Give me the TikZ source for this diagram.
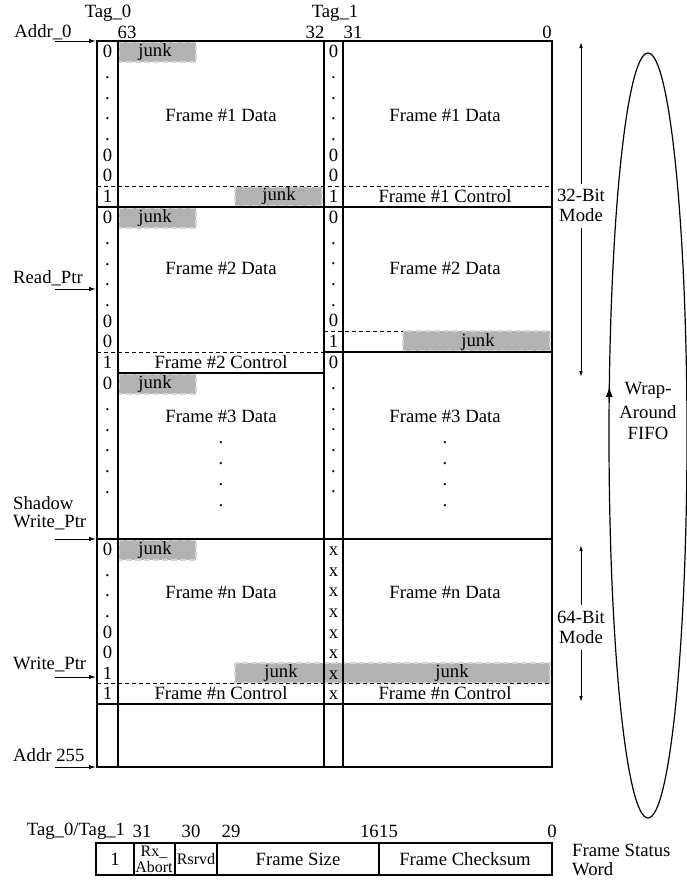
\documentclass[tikz,border=0pt]{standalone}
\usepackage{fontspec}
\setmainfont{Liberation Serif}
\usetikzlibrary{arrows.meta}
\definecolor{junkgray}{RGB}{178,178,178}
\begin{document}
\begin{tikzpicture}[x=1pt,y=-1pt,
  lbl/.style={font=\fontsize{18.7}{20}\selectfont, inner sep=0pt},
  small/.style={font=\fontsize{16}{16}\selectfont, inner sep=0pt},
  tagc/.style={lbl, text height=12.6pt, text depth=0pt},
  thickln/.style={line width=2.8pt, line cap=rect},
  midln/.style={line width=2pt},
  dashln/.style={line width=0.9pt, dash pattern=on 4pt off 3pt},
  junkbox/.style={fill=junkgray, draw=junkgray!55, line width=1.2pt, dash pattern=on 6pt off 3pt},
  ptr/.style={line width=1pt, -{Latex[length=7pt,width=4.5pt]}},
  modearr/.style={line width=0.9pt, -{Latex[length=6pt,width=3.5pt]}},
]
\useasboundingbox (0,0) rectangle (686,894);

% ---------- junk areas ----------
\draw[junkbox] (119,42) rectangle (196,62);
\draw[junkbox] (235,187) rectangle (322,206);
\draw[junkbox] (119,208) rectangle (196,228);
\draw[junkbox] (403,331) rectangle (550,351);
\draw[junkbox] (119,374) rectangle (196,394);
\draw[junkbox] (119,540) rectangle (196,560);
\draw[junkbox] (235,663) rectangle (550,683);

% ---------- grid lines ----------
\draw[dashln] (97,186) -- (552,186);
\draw[dashln] (97,352) -- (324,352);
\draw[dashln] (324,331) -- (403,331);
\draw[dashln] (97,683) -- (552,683);
\draw[midln] (118,373) -- (324,373);
\draw[midln] (324,352) -- (552,352);
\draw[thickln] (97,207) -- (552,207);
\draw[thickln] (97,539) -- (552,539);
\draw[thickln] (97,704) -- (552,704);
\draw[thickln] (97,41) rectangle (552,767);
\foreach \x in {118,324,343} \draw[thickln] (\x,41) -- (\x,767);

% ---------- tag columns ----------
% Frame 1
\foreach \t [count=\i from 0] in {0,.,.,.,.,0,0} {
  \node[tagc] (LA\i) at (107.5,{51.35+20.7*\i}) {\t};
  \node[tagc] (RA\i) at (333.5,{51.35+20.7*\i}) {\t};
}
\node[tagc] (LAc) at (107.5,196.5) {1};
\node[tagc] (RAc) at (333.5,196.5) {1};
% Frame 2
\foreach \t [count=\i from 0] in {0,.,.,.,.,0,0}
  \node[tagc] (LB\i) at (107.5,{217.35+20.7*\i}) {\t};
\node[tagc] (LBc) at (107.5,362.5) {1};
\foreach \t [count=\i from 0] in {0,.,.,.,.,0}
  \node[tagc] (RB\i) at (333.5,{217.33+20.67*\i}) {\t};
\node[tagc] (RBc) at (333.5,341.5) {1};
% Frame 3
\foreach \t [count=\i from 0] in {0,.,.,.,.,.}
  \node[tagc] (LC\i) at (107.5,{383.35+20.7*\i}) {\t};
\foreach \t [count=\i from 0] in {0,.,.,.,.,.,.}
  \node[tagc] (RC\i) at (333.5,{362.35+20.7*\i}) {\t};
% Frame n
\foreach \t [count=\i from 0] in {0,.,.,.,0,0,1}
  \node[tagc] (LN\i) at (107.5,{549.3+20.6*\i}) {\t};
\node[tagc] (LNc) at (107.5,693.5) {1};
\foreach \i in {0,...,6}
  \node[tagc] (RN\i) at (333.5,{549.3+20.6*\i}) {x};
\node[tagc] (RNc) at (333.5,693.5) {x};

% ---------- junk labels ----------
\node[lbl] (j1) at (155,52) {junk};
\node[lbl] (j2) at (279,196.5) {junk};
\node[lbl] (j3) at (155,218) {junk};
\node[lbl] (j4) at (478,341.5) {junk};
\node[lbl] (j5) at (155,384) {junk};
\node[lbl] (j6) at (155,550) {junk};
\node[lbl] (j7) at (281,673) {junk};
\node[lbl] (j8) at (452,673) {junk};

% ---------- frame texts ----------
\node[lbl] (f1l) at (221,115) {Frame \#1 Data};
\node[lbl] (f1r) at (445,115) {Frame \#1 Data};
\node[lbl] (f1c) at (445,196.5) {Frame \#1 Control};
\node[lbl] (f2l) at (221,268) {Frame \#2 Data};
\node[lbl] (f2r) at (445,268) {Frame \#2 Data};
\node[lbl] (f2c) at (221,362.5) {Frame \#2 Control};
\node[lbl] (f3l) at (221,416) {Frame \#3 Data};
\node[lbl] (f3r) at (445,416) {Frame \#3 Data};
\foreach \y [count=\i] in {437,458,479,500} {
  \node[tagc] (d3l\i) at (221,\y) {.};
  \node[tagc] (d3r\i) at (445,\y) {.};
}
\node[lbl] (fnl) at (221,592) {Frame \#n Data};
\node[lbl] (fnr) at (445,592) {Frame \#n Data};
\node[lbl] (fncl) at (221,693.5) {Frame \#n Control};
\node[lbl] (fncr) at (445,693.5) {Frame \#n Control};

% ---------- top labels ----------
\node[lbl] (tag0) at (108,13) {Tag\_0};
\node[lbl] (b63) at (127,32) {63};
\node[lbl] (b32) at (315,32) {32};
\node[lbl] (tag1) at (335,13) {Tag\_1};
\node[lbl] (b31) at (353,32) {31};
\node[lbl] (b0) at (547,32) {0};

% ---------- left pointers ----------
\node[lbl] (addr0) at (43,32) {Addr\_0};
\coordinate (a0s) at (55,41); \coordinate (a0e) at (96,41);
\draw[ptr] (a0s) -- (a0e);
\node[lbl] (rptr) at (48,278) {Read\_Ptr};
\coordinate (rps) at (55,289); \coordinate (rpe) at (96,289);
\draw[ptr] (rps) -- (rpe);
\node[lbl, anchor=west] (shadow) at (13,503) {Shadow};
\node[lbl, anchor=west] (swptr) at (13,523) {Write\_Ptr};
\coordinate (sws) at (55,539); \coordinate (swe) at (96,539);
\draw[ptr] (sws) -- (swe);
\node[lbl, anchor=west] (wptr) at (13,665) {Write\_Ptr};
\coordinate (wps) at (55,677); \coordinate (wpe) at (96,677);
\draw[ptr] (wps) -- (wpe);
\node[lbl, anchor=west] (addr255) at (13,755) {Addr 255};
\coordinate (a2s) at (55,767); \coordinate (a2e) at (96,767);
\draw[ptr] (a2s) -- (a2e);

% ---------- mode arrows ----------
\node[lbl] (m32a) at (581,195) {32-Bit};
\node[lbl] (m32b) at (581,215) {Mode};
\coordinate (m32top) at (581,42); \coordinate (m32bot) at (581,377);
\draw[modearr] (m32a.north |- 0,184) -- (m32top);
\draw[modearr] (m32b.south |- 0,228) -- (m32bot);
\node[lbl] (m64a) at (581,617) {64-Bit};
\node[lbl] (m64b) at (581,637) {Mode};
\coordinate (m64top) at (581,545); \coordinate (m64bot) at (581,702);
\draw[modearr] (m64a.north |- 0,605) -- (m64top);
\draw[modearr] (m64b.south |- 0,650) -- (m64bot);

% ---------- wrap-around FIFO ----------
\draw[line width=1.2pt] (648,435.5) ellipse [x radius=39pt, y radius=382.5pt];
\coordinate (wa1) at (609.2,402); \coordinate (wa2) at (609.3,387);
\draw[line width=1.2pt, -{Latex[length=10pt,width=7pt]}] (wa1) -- (wa2);
\node[lbl] (wrap1) at (648,390) {Wrap-};
\node[lbl] (wrap2) at (648,412) {Around};
\node[lbl] (wrap3) at (648,433) {FIFO};

% ---------- frame status word ----------
\node[lbl] (tt) at (76,831) {Tag\_0/Tag\_1};
\node[lbl] (s31) at (142,831) {31};
\node[lbl] (s30) at (191,831) {30};
\node[lbl] (s29) at (231,831) {29};
\node[lbl, anchor=east] (s16) at (379,831) {16};
\node[lbl, anchor=west] (s15) at (379,831) {15};
\node[lbl] (s0) at (552,831) {0};
\draw[thickln] (96,843) rectangle (552,875);
\foreach \x in {134,175,217,379} \draw[thickln] (\x,843) -- (\x,875);
\node[lbl] (sw1) at (115,859) {1};
\node[small] (swrx) at (154,852) {Rx\_};
\node[small] (swab) at (154,867) {Abort};
\node[small] (swrs) at (196,859) {Rsrvd};
\node[lbl] (swfs) at (298,859) {Frame Size};
\node[lbl] (swfc) at (465,859) {Frame Checksum};
\node[lbl, anchor=west] (fsw1) at (572,850) {Frame Status};
\node[lbl, anchor=west] (fsw2) at (572,869) {Word};
\end{tikzpicture}
\end{document}
